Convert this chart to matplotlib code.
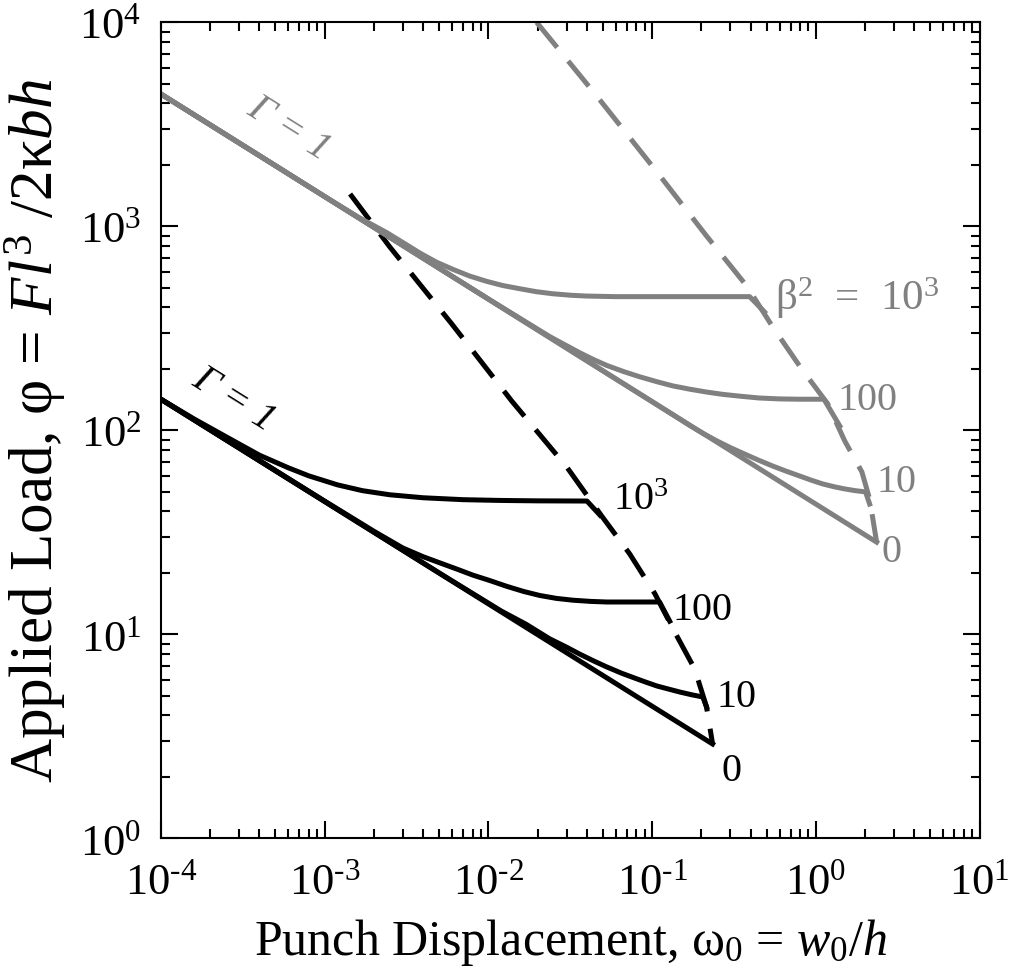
import numpy as np
import matplotlib
matplotlib.use("Agg")
import matplotlib.pyplot as plt
from matplotlib.ticker import LogLocator, NullFormatter, FuncFormatter

plt.rcParams['font.family'] = ['Liberation Serif', 'DejaVu Serif']
plt.rcParams['mathtext.fontset'] = 'custom'
plt.rcParams['mathtext.rm'] = 'Liberation Serif'
plt.rcParams['mathtext.it'] = 'Liberation Serif:italic'
plt.rcParams['mathtext.bf'] = 'Liberation Serif:bold'

# --- black family ---
blk_base_x = [1e-4, 0.234]
blk_base_y = [142, 2.90]

blk_b10_x = [1e-4, 5e-3, 1.2e-2, 1.7e-2, 2.37e-2, 3.0e-2, 3.61e-2, 4.4e-2, 5.28e-2,
             6.5e-2, 7.83e-2, 9.2e-2, 0.107, 0.127, 0.148, 0.175, 0.204, 0.215]
blk_b10_y = [142, 20.0, 13.0, 11.2, 9.5, 8.65, 8.0, 7.4, 6.92,
             6.45, 6.10, 5.82, 5.58, 5.38, 5.21, 5.05, 4.93, 4.40]

blk_b100_x = [1e-4, 1e-3, 2e-3, 3e-3, 4e-3, 5.05e-3, 6.5e-3, 8.04e-3, 1.03e-2, 1.29e-2,
              1.65e-2, 2.06e-2, 2.6e-2, 3.27e-2, 4.2e-2, 5.28e-2, 0.111, 0.128]
blk_b100_y = [142, 45.0, 32.0, 26.5, 24.0, 22.4, 20.8, 19.5, 18.3, 17.2,
              16.2, 15.5, 15.0, 14.7, 14.5, 14.4, 14.4, 11.6]

blk_b1000_x = [1e-4, 1.6e-4, 2.5e-4, 4e-4, 6e-4, 8e-4, 1.2e-3, 1.7e-3, 2.5e-3, 4e-3,
               7e-3, 1.2e-2, 2e-2, 0.040, 0.048]
blk_b1000_y = [142, 113.5, 93.0, 75.5, 65.5, 59.8, 54.0, 50.6, 48.3, 46.7,
               45.7, 45.3, 45.1, 45.0, 38.4]

blk_env_x = [1.43e-3, 2.50e-3, 5.98e-3, 1.39e-2, 3.01e-2, 4.92e-2, 7.29e-2, 0.104,
             0.137, 0.182, 0.215, 0.234]
blk_env_y = [1440, 792, 332, 139, 66.1, 38.0, 24.8, 15.8, 10.3, 6.76, 4.40, 2.90]

# --- gray family ---
gry_base_x = [1e-4, 2.35]
gry_base_y = [4450, 28.3]

gry_b10_x = [1e-4, 0.1, 0.170, 0.205, 0.248, 0.30, 0.367, 0.45, 0.545, 0.66, 0.796,
             0.94, 1.10, 1.29, 1.50, 1.74, 2.01, 2.13]
gry_b10_y = [4450, 138, 105.5, 96.5, 88.8, 82.3, 76.5, 71.2, 66.8, 63.0, 59.7,
             56.9, 54.6, 52.9, 51.6, 50.6, 49.9, 43.5]

gry_b100_x = [1e-4, 1e-2, 2.37e-2, 3.0e-2, 3.61e-2, 4.4e-2, 5.28e-2, 6.7e-2, 8.39e-2,
              0.107, 0.134, 0.17, 0.215, 0.27, 0.343, 0.45, 0.601, 0.8, 1.12, 1.40]
gry_b100_y = [4450, 440, 288, 260, 240, 222, 208, 194, 183,
              173, 165, 159, 154, 150, 147, 144, 142.5, 142, 142, 105]

gry_b1000_x = [1e-4, 5e-4, 1e-3, 1.6e-3, 2.4e-3, 3.1e-3, 3.81e-3, 4.8e-3, 6.07e-3,
               7.7e-3, 9.77e-3, 1.23e-2, 1.56e-2, 1.96e-2, 2.47e-2, 3.2e-2, 3.99e-2,
               6e-2, 0.394, 0.486]
gry_b1000_y = [4450, 1985, 1398, 1110, 930, 820, 740, 668, 615,
               570, 537, 512, 494, 478, 467, 459, 455,
               452, 452, 380]

gry_env_x = [1.97e-2, 4.59e-2, 0.107, 0.215, 0.378, 0.545, 0.818, 1.18, 1.50, 1.91,
             2.13, 2.35]
gry_env_y = [1e4, 4350, 1846, 896, 510, 321, 200, 135, 88.7, 62.5, 46.0, 28.3]

GRAY = '#808080'


def pow10_label(v, pos):
    e = int(round(np.log10(v)))
    if e < 0:
        return r'10$^{\text{-}%d}$' % (-e)
    return r'10$^{%d}$' % e


fig = plt.figure(figsize=(10.12, 9.78), dpi=100)
ax = fig.add_axes([0.159, 0.1418, 0.809, 0.8344])

lw = 3.6
for xs, ys in [(blk_base_x, blk_base_y), (blk_b10_x, blk_b10_y),
               (blk_b100_x, blk_b100_y), (blk_b1000_x, blk_b1000_y)]:
    ax.plot(xs, ys, color='black', lw=lw, solid_joinstyle='round')
ax.plot(blk_env_x, blk_env_y, color='black', lw=lw, dashes=(6.5, 3.5))

for xs, ys in [(gry_base_x, gry_base_y), (gry_b10_x, gry_b10_y),
               (gry_b100_x, gry_b100_y), (gry_b1000_x, gry_b1000_y)]:
    ax.plot(xs, ys, color=GRAY, lw=lw, solid_joinstyle='round')
ax.plot(gry_env_x, gry_env_y, color=GRAY, lw=lw, dashes=(6.5, 3.5))

ax.set_xscale('log')
ax.set_yscale('log')
ax.set_xlim(1e-4, 1e1)
ax.set_ylim(1e0, 1e4)

for axis in [ax.xaxis, ax.yaxis]:
    axis.set_major_locator(LogLocator(base=10, numticks=10))
    axis.set_major_formatter(FuncFormatter(pow10_label))
    axis.set_minor_locator(LogLocator(base=10, subs=np.arange(2, 10), numticks=10))
    axis.set_minor_formatter(NullFormatter())

ax.tick_params(which='both', direction='in', top=True, right=True, width=1.5)
ax.tick_params(which='major', length=12, labelsize=32)
ax.tick_params(which='minor', length=6.5)
ax.tick_params(axis='x', which='major', pad=17)
ax.tick_params(axis='y', which='major', pad=14)
for sp in ax.spines.values():
    sp.set_linewidth(1.5)

ax.set_xlabel(r'Punch Displacement, ω$_0$ = $w_0/h$', fontsize=36, labelpad=10)
ax.set_ylabel(r'Applied Load, φ = $Fl^3$ /2κ$bh$', fontsize=44, labelpad=8)

# curve annotations
fs = 29
ax.text(2.79e-4, 142, 'Γ = 1', fontsize=fs, fontstyle='italic', rotation=-32,
        ha='center', va='center', rotation_mode='anchor')
ax.text(6.04e-4, 3033, 'Γ = 1', fontsize=fs, fontstyle='italic', rotation=-32,
        ha='center', va='center', rotation_mode='anchor', color=GRAY)

ax.text(0.0574, 46, r'10$^3$', fontsize=fs, ha='left', va='center')
ax.text(0.134, 13.3, '100', fontsize=fs, ha='left', va='center')
ax.text(0.248, 4.93, '10', fontsize=fs, ha='left', va='center')
ax.text(0.266, 2.14, '0', fontsize=fs, ha='left', va='center')

ax.text(0.56, 450, r'β$^{2}$  =  10$^{3}$', fontsize=fs + 2, ha='left', va='center', color=GRAY)
ax.text(1.36, 142, '100', fontsize=fs, ha='left', va='center', color=GRAY)
ax.text(2.35, 56.4, '10', fontsize=fs, ha='left', va='center', color=GRAY)
ax.text(2.52, 25.4, '0', fontsize=fs, ha='left', va='center', color=GRAY)

fig.savefig('out.png', dpi=100)
